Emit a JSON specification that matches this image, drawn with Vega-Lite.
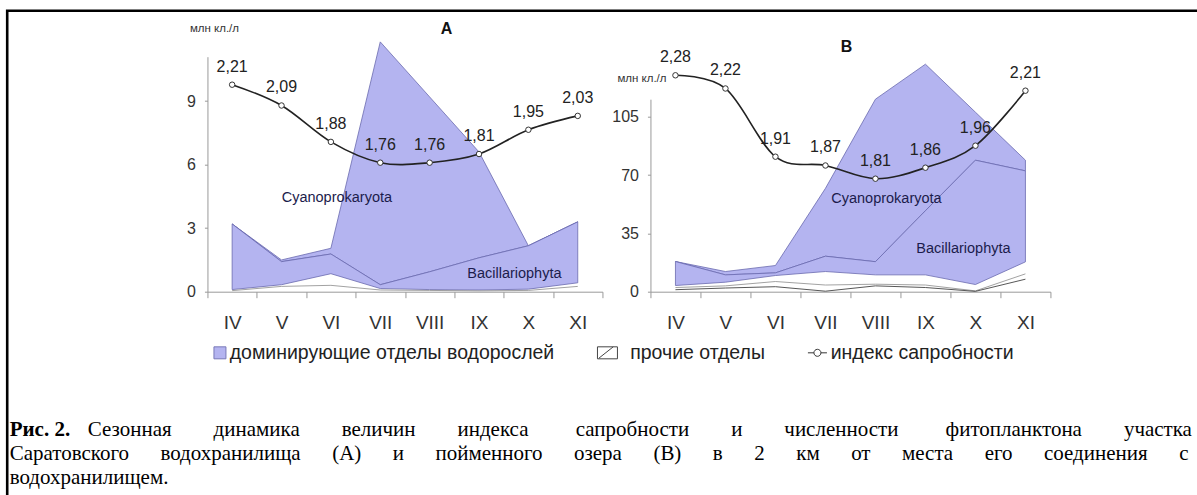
{
  "$schema": "https://vega.github.io/schema/vega-lite/v6.json",
  "padding": {"left": 5.7, "top": 8.7, "right": 0, "bottom": 0},
  "config": {
    "view": {"stroke": null},
    "font": "Liberation Sans",
    "locale": {"number": {"decimal": ",", "thousands": " ", "grouping": [3], "currency": ["", ""]}}
  },
  "datasets": {
    "A": [
      {"m": "IV", "t": 3.2, "b": 3.2, "o": 0.1, "o1": 0.05, "idx": 2.21},
      {"m": "V", "t": 1.5, "b": 1.42, "o": 0.33, "o1": 0.25, "idx": 2.09},
      {"m": "VI", "t": 2.05, "b": 1.78, "o": 0.85, "o1": 0.3, "idx": 1.88},
      {"m": "VII", "t": 11.8, "b": 0.33, "o": 0.15, "o1": 0.08, "idx": 1.76},
      {"m": "VIII", "t": 9.2, "b": 0.94, "o": 0.1, "o1": 0.06, "idx": 1.76},
      {"m": "IX", "t": 6.6, "b": 1.6, "o": 0.08, "o1": 0.04, "idx": 1.81},
      {"m": "X", "t": 2.17, "b": 2.17, "o": 0.12, "o1": 0.06, "idx": 1.95},
      {"m": "XI", "t": 3.3, "b": 3.3, "o": 0.42, "o1": 0.25, "idx": 2.03}
    ],
    "B": [
      {"m": "IV", "t": 18.1, "b": 18.1, "o": 3.7, "o1": 2.5, "o2": 1.2, "idx": 2.28},
      {"m": "V", "t": 12.1, "b": 10.1, "o": 5.7, "o1": 3.5, "o2": 2.2, "idx": 2.22},
      {"m": "VI", "t": 15.7, "b": 11.3, "o": 9.7, "o1": 6.1, "o2": 3.0, "idx": 1.91},
      {"m": "VII", "t": 62, "b": 21.3, "o": 12.1, "o1": 4, "o2": 0.3, "idx": 1.87},
      {"m": "VIII", "t": 115.5, "b": 18, "o": 10.1, "o1": 4.5, "o2": 3.5, "idx": 1.81},
      {"m": "IX", "t": 136.5, "b": 48.6, "o": 10.1, "o1": 4, "o2": 2.5, "idx": 1.86},
      {"m": "X", "t": 107.7, "b": 78.9, "o": 4.3, "o1": 0.5, "o2": 0.2, "idx": 1.96},
      {"m": "XI", "t": 78.9, "b": 72.5, "o": 17.9, "o1": 10.7, "o2": 7.5, "idx": 2.21}
    ],
    "cap": [
      {"line": 1, "part": "b", "text": "Рис. 2."},
      {"line": 1, "part": "r1", "text": "Сезонная\u00a0\u00a0\u00a0\u00a0\u00a0\u00a0\u00a0\u00a0динамика\u00a0\u00a0\u00a0\u00a0\u00a0\u00a0\u00a0\u00a0величин\u00a0\u00a0\u00a0\u00a0\u00a0\u00a0\u00a0\u00a0индекса\u00a0\u00a0\u00a0\u00a0\u00a0\u00a0\u00a0\u00a0\u00a0сапробности\u00a0\u00a0\u00a0\u00a0\u00a0\u00a0\u00a0\u00a0и\u00a0\u00a0\u00a0\u00a0\u00a0\u00a0\u00a0\u00a0численности\u00a0\u00a0\u00a0\u00a0\u00a0\u00a0\u00a0\u00a0\u00a0фитопланктона\u00a0\u00a0\u00a0\u00a0\u00a0\u00a0\u00a0\u00a0участка"},
      {"line": 2, "part": "r", "text": "Саратовского\u00a0\u00a0\u00a0\u00a0\u00a0\u00a0водохранилища\u00a0\u00a0\u00a0\u00a0\u00a0\u00a0(А)\u00a0\u00a0\u00a0\u00a0\u00a0\u00a0и\u00a0\u00a0\u00a0\u00a0\u00a0\u00a0пойменного\u00a0\u00a0\u00a0\u00a0\u00a0\u00a0озера\u00a0\u00a0\u00a0\u00a0\u00a0\u00a0(В)\u00a0\u00a0\u00a0\u00a0\u00a0\u00a0в\u00a0\u00a0\u00a0\u00a0\u00a0\u00a02\u00a0\u00a0\u00a0\u00a0\u00a0\u00a0км\u00a0\u00a0\u00a0\u00a0\u00a0\u00a0от\u00a0\u00a0\u00a0\u00a0\u00a0\u00a0места\u00a0\u00a0\u00a0\u00a0\u00a0\u00a0его\u00a0\u00a0\u00a0\u00a0\u00a0\u00a0соединения\u00a0\u00a0\u00a0\u00a0\u00a0\u00a0с"},
      {"line": 3, "part": "r", "text": "водохранилищем."}
    ]
  },
  "vconcat": [
    {
      "hconcat": [
        {
          "width": 395, "height": 235,
          "data": {"name": "A"},
          "encoding": {
            "x": {"field": "m", "type": "ordinal", "bandPosition": 0.5,
              "scale": {"type": "band", "paddingInner": 0, "paddingOuter": 0, "domain": ["IV", "V", "VI", "VII", "VIII", "IX", "X", "XI"]},
              "axis": {"title": null, "tickBand": "extent", "tickSize": 6, "tickColor": "#999", "domainColor": "#999", "labelFontSize": 19, "labelColor": "#333", "labelPadding": 16, "labelAngle": 0, "grid": false}}
          },
          "layer": [
            {
              "layer": [
                {"mark": {"type": "area", "fill": "#b4b4f0", "stroke": "#6a6aae", "strokeWidth": 0.8},
                  "encoding": {"y": {"field": "b", "type": "quantitative", "scale": {"domain": [0, 11.1], "nice": false},
                    "axis": {"values": [0, 3, 6, 9], "title": "млн кл./л", "titleAngle": 0, "titleX": 6.5, "titleY": -28, "titleAlign": "center", "titleBaseline": "middle", "titleFontSize": 11.5, "titleFontWeight": "normal", "titleColor": "#333", "tickSize": 3, "tickColor": "#999", "domainColor": "#999", "labelFontSize": 16, "labelPadding": 9, "labelColor": "#333", "grid": false}},
                    "y2": {"field": "t"}}},
                {"mark": {"type": "area", "fill": "#b4b4f0", "stroke": "#6a6aae", "strokeWidth": 0.8},
                  "encoding": {"y": {"field": "o", "type": "quantitative"}, "y2": {"field": "b"}}},
                {"mark": {"type": "line", "color": "#8a8a8a", "strokeWidth": 0.8},
                  "encoding": {"y": {"field": "o1", "type": "quantitative"}}},
                {"data": {"values": [{}]}, "mark": {"type": "text", "text": "Cyanoprokaryota", "fontSize": 14.5, "color": "#1c1c4c", "dx": 6},
                  "encoding": {"x": {"datum": "VI", "type": "ordinal", "bandPosition": 0.5}, "y": {"datum": 4.44, "type": "quantitative"}}},
                {"data": {"values": [{}]}, "mark": {"type": "text", "text": "Bacillariophyta", "fontSize": 14.5, "color": "#1c1c4c", "dx": -14},
                  "encoding": {"x": {"datum": "X", "type": "ordinal", "bandPosition": 0.5}, "y": {"datum": 0.85, "type": "quantitative"}}},
                {"data": {"values": [{}]}, "mark": {"type": "text", "text": "A", "fontSize": 16, "fontWeight": "bold", "color": "#111", "dx": 17},
                  "encoding": {"x": {"datum": "VIII", "type": "ordinal", "bandPosition": 0.5}, "y": {"datum": 12.4, "type": "quantitative"}}},
                {"data": {"values": [{"k": "доминирующие отделы водорослей"}, {"k": "прочие отделы"}, {"k": "индекс сапробности"}]},
                  "mark": {"type": "point", "opacity": 0},
                  "encoding": {
                    "fill": {"field": "k", "type": "nominal",
                      "scale": {"domain": ["доминирующие отделы водорослей", "прочие отделы", "индекс сапробности"], "range": ["#b4b4f0", "#ffffff", "#ffffff"]},
                      "legend": {"title": " ", "titleFontSize": 1, "titlePadding": 128, "orient": "none", "legendX": -2.5, "legendY": -46, "direction": "horizontal", "padding": 203, "strokeColor": "#000", "symbolSize": 144, "symbolStrokeWidth": 1, "symbolOpacity": 1, "labelFont": "Liberation Sans", "labelFontSize": 19.5, "labelColor": "#222", "labelOffset": 0, "columnPadding": 39.5, "labelLimit": 0,
                        "encode": {"legend": {"update": {"strokeWidth": {"value": 2.6}}}}}},
                    "stroke": {"field": "k", "type": "nominal",
                      "scale": {"domain": ["доминирующие отделы водорослей", "прочие отделы", "индекс сапробности"], "range": ["#7878b8", "#444444", "#333333"]},
                      "legend": {"title": " ", "titleFontSize": 1, "titlePadding": 128, "orient": "none", "legendX": -2.5, "legendY": -46, "direction": "horizontal", "padding": 203, "strokeColor": "#000", "symbolSize": 144, "symbolStrokeWidth": 1, "symbolOpacity": 1, "labelFont": "Liberation Sans", "labelFontSize": 19.5, "labelColor": "#222", "labelOffset": 0, "columnPadding": 39.5, "labelLimit": 0,
                        "encode": {"legend": {"update": {"strokeWidth": {"value": 2.6}}}}}},
                    "shape": {"field": "k", "type": "nominal",
                      "scale": {"domain": ["доминирующие отделы водорослей", "прочие отделы", "индекс сапробности"], "range": ["M-1,-1H1V1H-1Z", "M-3.83,-1H-0.5V1H-3.83Z M-3.6,0.9L-1.2,-1", "M-2.17,0H-1.17M0,0H1.0M-1.17,0A0.58,0.58 0 1 1 0,0A0.58,0.58 0 1 1 -1.17,0Z"]},
                      "legend": {"title": " ", "titleFontSize": 1, "titlePadding": 128, "orient": "none", "legendX": -2.5, "legendY": -46, "direction": "horizontal", "padding": 203, "strokeColor": "#000", "symbolSize": 144, "symbolStrokeWidth": 1, "symbolOpacity": 1, "labelFont": "Liberation Sans", "labelFontSize": 19.5, "labelColor": "#222", "labelOffset": 0, "columnPadding": 39.5, "labelLimit": 0,
                        "encode": {"legend": {"update": {"strokeWidth": {"value": 2.6}}}}}}
                  }}
              ]
            },
            {
              "encoding": {"y": {"field": "idx", "type": "quantitative", "scale": {"domain": [1.0155, 2.3716], "zero": false, "nice": false}, "axis": null}},
              "layer": [
                {"mark": {"type": "line", "color": "#222", "strokeWidth": 1.6, "interpolate": "cardinal"}},
                {"mark": {"type": "point", "filled": true, "fill": "#fff", "stroke": "#333", "strokeWidth": 1, "size": 30, "opacity": 1}},
                {"mark": {"type": "text", "dy": -18, "fontSize": 16, "color": "#222"},
                  "encoding": {"text": {"field": "idx", "type": "quantitative", "format": ".2f"}}}
              ]
            }
          ],
          "resolve": {"scale": {"y": "independent"}}
        },
        {
          "width": 400, "height": 235,
          "data": {"name": "B"},
          "encoding": {
            "x": {"field": "m", "type": "ordinal", "bandPosition": 0.5,
              "scale": {"type": "band", "paddingInner": 0, "paddingOuter": 0, "domain": ["IV", "V", "VI", "VII", "VIII", "IX", "X", "XI"]},
              "axis": {"title": null, "tickBand": "extent", "tickSize": 6, "tickColor": "#999", "domainColor": "#999", "labelFontSize": 19, "labelColor": "#333", "labelPadding": 16, "labelAngle": 0, "grid": false}}
          },
          "layer": [
            {
              "layer": [
                {"mark": {"type": "area", "fill": "#b4b4f0", "stroke": "#6a6aae", "strokeWidth": 0.8},
                  "encoding": {"y": {"field": "b", "type": "quantitative", "scale": {"domain": [0, 141], "nice": false},
                    "axis": {"values": [0, 35, 70, 105], "domain": true, "domainColor": "#999", "domainDash": [192.5, 80], "title": "млн кл./л", "titleAngle": 0, "titleX": -9, "titleY": 22, "titleAlign": "center", "titleBaseline": "middle", "titleFontSize": 11.5, "titleFontWeight": "normal", "titleColor": "#333", "tickSize": 3, "tickColor": "#999", "labelFontSize": 16, "labelPadding": 9, "labelColor": "#333", "grid": false}},
                    "y2": {"field": "t"}}},
                {"mark": {"type": "area", "fill": "#b4b4f0", "stroke": "#6a6aae", "strokeWidth": 0.8},
                  "encoding": {"y": {"field": "o", "type": "quantitative"}, "y2": {"field": "b"}}},
                {"mark": {"type": "line", "color": "#8a8a8a", "strokeWidth": 0.8},
                  "encoding": {"y": {"field": "o1", "type": "quantitative"}}},
                {"mark": {"type": "line", "color": "#444444", "strokeWidth": 0.9},
                  "encoding": {"y": {"field": "o2", "type": "quantitative"}}},
                {"data": {"values": [{}]}, "mark": {"type": "text", "text": "Cyanoprokaryota", "fontSize": 14.5, "color": "#1c1c4c", "dx": 11},
                  "encoding": {"x": {"datum": "VIII", "type": "ordinal", "bandPosition": 0.5}, "y": {"datum": 55.5, "type": "quantitative"}}},
                {"data": {"values": [{}]}, "mark": {"type": "text", "text": "Bacillariophyta", "fontSize": 14.5, "color": "#1c1c4c", "dx": -12},
                  "encoding": {"x": {"datum": "X", "type": "ordinal", "bandPosition": 0.5}, "y": {"datum": 25.5, "type": "quantitative"}}},
                {"data": {"values": [{}]}, "mark": {"type": "text", "text": "B", "fontSize": 16, "fontWeight": "bold", "color": "#111", "dx": 21},
                  "encoding": {"x": {"datum": "VII", "type": "ordinal", "bandPosition": 0.5}, "y": {"datum": 146.7, "type": "quantitative"}}}
              ]
            },
            {
              "encoding": {"y": {"field": "idx", "type": "quantitative", "scale": {"domain": [1.2964, 2.3645], "zero": false, "nice": false}, "axis": null}},
              "layer": [
                {"mark": {"type": "line", "color": "#222", "strokeWidth": 1.6, "interpolate": "cardinal"}},
                {"mark": {"type": "point", "filled": true, "fill": "#fff", "stroke": "#333", "strokeWidth": 1, "size": 30, "opacity": 1}},
                {"mark": {"type": "text", "dy": -18, "fontSize": 16, "color": "#222"},
                  "encoding": {"text": {"field": "idx", "type": "quantitative", "format": ".2f"}}}
              ]
            }
          ],
          "resolve": {"scale": {"y": "independent"}}
        }
      ],
      "spacing": 8
    },
    {
      "width": 1239, "height": 48,
      "data": {"name": "cap"},
      "encoding": {
        "y": {"field": "line", "type": "ordinal", "scale": {"type": "point", "padding": 0}, "axis": null},
        "x": {"datum": 0, "type": "quantitative", "scale": {"domain": [0, 1]}, "axis": null}
      },
      "layer": [
        {"transform": [{"filter": "datum.part == 'b'"}],
          "mark": {"type": "text", "align": "left", "baseline": "alphabetic", "font": "Liberation Serif", "fontSize": 21, "fontWeight": "bold", "color": "#000"},
          "encoding": {"text": {"field": "text"}}},
        {"transform": [{"filter": "datum.part == 'r1'"}],
          "mark": {"type": "text", "align": "left", "baseline": "alphabetic", "font": "Liberation Serif", "fontSize": 21, "color": "#000", "dx": 78},
          "encoding": {"text": {"field": "text"}}},
        {"transform": [{"filter": "datum.part == 'r'"}],
          "mark": {"type": "text", "align": "left", "baseline": "alphabetic", "font": "Liberation Serif", "fontSize": 21, "color": "#000"},
          "encoding": {"text": {"field": "text"}}}
      ]
    }
  ],
  "spacing": 86,
  "center": true
}
